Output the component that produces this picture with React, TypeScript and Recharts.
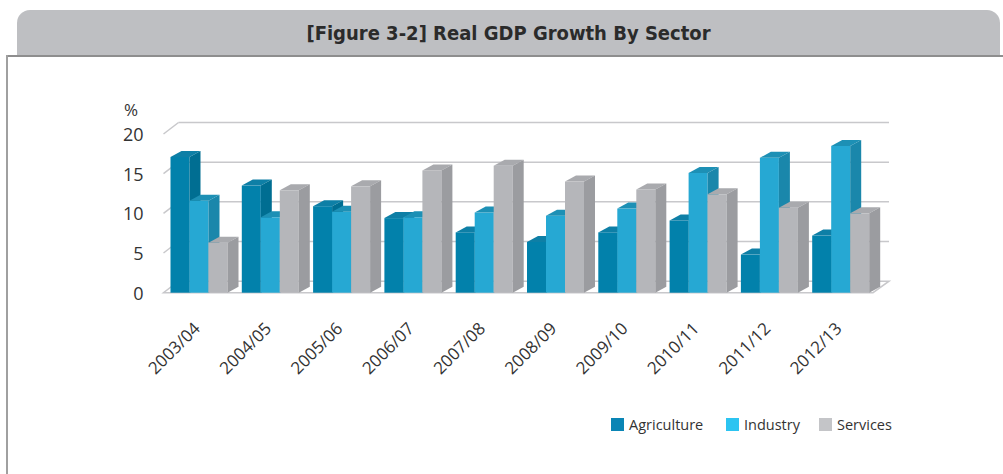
import { BarChart, Bar, XAxis, YAxis, CartesianGrid } from "recharts";

const categories = [
  "2003/04", "2004/05", "2005/06", "2006/07", "2007/08",
  "2008/09", "2009/10", "2010/11", "2011/12", "2012/13",
];
const agriculture = [17.1, 13.5, 10.9, 9.4, 7.6, 6.4, 7.6, 9.1, 4.8, 7.2];
const industry = [11.6, 9.5, 10.2, 9.5, 10.1, 9.7, 10.6, 15.1, 17.0, 18.5];
const services = [6.3, 12.9, 13.4, 15.4, 16.0, 14.0, 13.0, 12.4, 10.7, 10.0];
const yTicks = [0, 5, 10, 15, 20];

const data = categories.map((name, i) => ({
  name,
  agriculture: agriculture[i],
  industry: industry[i],
  services: services[i],
}));

const FONT = "'Open Sans', 'Noto Sans', sans-serif";

// depth of the wall/floor and of each bar
const WALL_DX = 15;
const WALL_DY = 11.5;
const BAR_DX = 11;
const BAR_DY = 6;

const series = [
  { key: "agriculture", label: "Agriculture", front: "#0281ab", top: "#0e7fa6", side: "#006e92", legend: "#0a85b5" },
  { key: "industry", label: "Industry", front: "#26a8d3", top: "#1d90b5", side: "#1a87ab", legend: "#2cc4f1" },
  { key: "services", label: "Services", front: "#b5b6ba", top: "#a9aaae", side: "#9b9ca0", legend: "#c4c5c8" },
];

function makeBar3D(top: string, side: string) {
  return (props: any) => {
    const { x, y, width, height, fill } = props;
    if (height == null || height <= 0) return <g />;
    const r = x + width;
    const b = y + height;
    return (
      <g>
        <rect x={x} y={y} width={width} height={height} fill={fill} />
        <polygon
          points={`${x},${y} ${x + BAR_DX},${y - BAR_DY} ${r + BAR_DX},${y - BAR_DY} ${r},${y}`}
          fill={top}
        />
        <polygon
          points={`${r},${y} ${r + BAR_DX},${y - BAR_DY} ${r + BAR_DX},${b - BAR_DY} ${r},${b}`}
          fill={side}
        />
      </g>
    );
  };
}

// back-wall gridline with a diagonal on the side wall; the zero line becomes the floor
function WallLine(props: any) {
  const { x1, x2, y1, index } = props;
  const y = y1;
  if (index === 0) {
    return (
      <polygon
        key={`floor-${index}`}
        points={`${x1},${y} ${x2 - 3.5},${y} ${x2 + 12.5},${y - WALL_DY} ${x1 + WALL_DX},${y - WALL_DY}`}
        fill="#ffffff"
        stroke="#c8c8cb"
        strokeWidth={1.5}
      />
    );
  }
  return (
    <g key={`wall-${index}`}>
      <line x1={x1} y1={y} x2={x1 + WALL_DX} y2={y - WALL_DY} stroke="#c8c8cb" strokeWidth={1.5} />
      <line x1={x1 + WALL_DX} y1={y - WALL_DY} x2={x2 + 12.5} y2={y - WALL_DY} stroke="#c8c8cb" strokeWidth={1.5} />
    </g>
  );
}

function YTick({ x, y, payload }: any) {
  return (
    <text x={x} y={y} textAnchor="end" dominantBaseline="central" fontFamily={FONT} fontSize={18} fill="#333">
      {payload.value}
    </text>
  );
}

function XTick({ x, y, payload }: any) {
  return (
    <text
      transform={`translate(${x + 2},${y + 37}) rotate(-45)`}
      textAnchor="end"
      fontFamily={FONT}
      fontSize={17}
      fill="#333"
    >
      {payload.value}
    </text>
  );
}

export default function App() {
  return (
    <div style={{ position: "absolute", left: 0, top: 0, width: 1003, height: 474, background: "#fff", overflow: "hidden" }}>
      <div
        style={{
          position: "absolute",
          left: 17,
          top: 10,
          width: 983,
          height: 45,
          background: "#bebfc2",
          borderRadius: "13px 13px 0 0",
          display: "flex",
          alignItems: "center",
          justifyContent: "center",
          fontFamily: "'DejaVu Sans Condensed', 'Liberation Sans Narrow', 'DejaVu Sans', sans-serif",
          fontWeight: "bold",
          fontSize: 20,
          color: "#2b2b2b",
        }}
      >
        [Figure 3-2] Real GDP Growth By Sector
      </div>
      <div style={{ position: "absolute", left: 6, top: 55, width: 997, height: 2, background: "#8e8e8e" }} />
      <div style={{ position: "absolute", left: 6, top: 55, width: 2, height: 419, background: "#a0a0a0" }} />

      <div style={{ position: "absolute", left: 124, top: 100, fontFamily: FONT, fontSize: 17, lineHeight: "20px", color: "#333" }}>%</div>

      <div style={{ position: "absolute", left: 0, top: 0 }}>
        <BarChart
          width={1003}
          height={474}
          data={data}
          margin={{ top: 134, right: 126.5, bottom: 81.3, left: 0 }}
          barGap={0}
          barCategoryGap={7}
        >
          <CartesianGrid vertical={false} horizontal={WallLine} />
          <YAxis
            domain={[0, 20]}
            ticks={yTicks}
            width={163.5}
            axisLine={false}
            tickLine={false}
            tickSize={0}
            tickMargin={20}
            tick={<YTick />}
            interval={0}
          />
          <XAxis
            dataKey="name"
            height={100}
            axisLine={false}
            tickLine={false}
            tickSize={0}
            tickMargin={0}
            tick={<XTick />}
            interval={0}
          />
          {series.map((s) => (
            <Bar
              key={s.key}
              dataKey={s.key}
              fill={s.front}
              shape={makeBar3D(s.top, s.side)}
              isAnimationActive={false}
            />
          ))}
        </BarChart>
      </div>

      {series.map((s, i) => {
        const lefts = [611, 726, 819];
        return (
          <div key={s.key} style={{ position: "absolute", left: lefts[i], top: 414, display: "flex", alignItems: "center", height: 20 }}>
            <div style={{ width: 13, height: 13, background: s.legend, marginRight: 5 }} />
            <span style={{ fontFamily: FONT, fontSize: 14.5, color: "#333" }}>{s.label}</span>
          </div>
        );
      })}
    </div>
  );
}
